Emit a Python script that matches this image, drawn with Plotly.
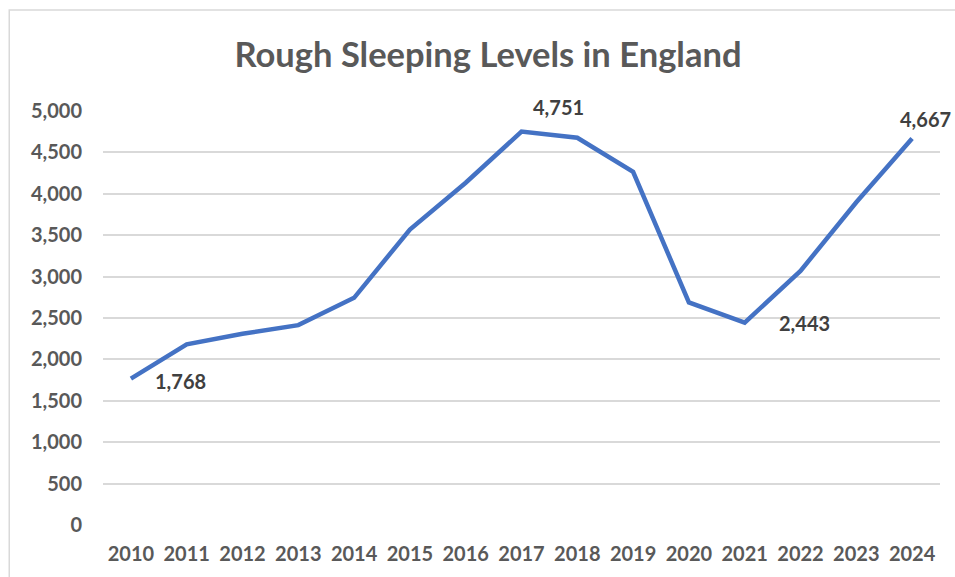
import plotly.graph_objects as go

years = [str(y) for y in range(2010, 2025)]
counts = [1768, 2181, 2309, 2414, 2744, 3569, 4134, 4751, 4677, 4266, 2688, 2443, 3069, 3898, 4667]
y_ticks = list(range(0, 5001, 500))

# labelled points: index, x/y pixel offset, anchor
labels = [(0, 50, -2, "center"), (7, 37, 25, "center"),
          (11, 60, 0, "center"), (14, 41, 20, "right")]

grey = "#595959"
font = "Lato"

fig = go.Figure()
fig.add_trace(go.Scatter(
    x=years, y=counts, mode="lines",
    line=dict(color="#4472C4", width=4.5),
    hoverinfo="x+y",
))

for i, dx, dy, anchor in labels:
    fig.add_annotation(
        x=i, y=counts[i], xref="x", yref="y", xanchor=anchor,
        text=f"<b>{counts[i]:,}</b>", showarrow=False,
        xshift=dx, yshift=dy,
        font=dict(family=font, size=20, color="#404040"),
    )

# outer chart frame
fig.add_shape(type="rect", xref="paper", yref="paper",
              x0=-0.112, y0=-0.3, x1=1.3, y1=1.244,
              line=dict(color="#d9d9d9", width=1.5), layer="below")

fig.update_layout(
    width=955, height=577,
    margin=dict(l=103, r=15, t=111, b=52),
    paper_bgcolor="white", plot_bgcolor="white",
    title=dict(text="<b>Rough Sleeping Levels in England</b>",
               x=0.511, xanchor="center", y=0.905, yanchor="middle",
               font=dict(family=font, size=34.5, color=grey)),
    showlegend=False,
    xaxis=dict(type="category", range=[-0.5, 14.5], showgrid=False,
               showline=False, ticks="", ticklabelstandoff=15, automargin=False,
               tickfont=dict(family=font, size=20, color=grey, weight="bold")),
    yaxis=dict(range=[0, 5000], tickvals=y_ticks, tickformat=",",
               gridcolor="#d9d9d9", gridwidth=1.5, zeroline=False,
               showline=False, ticks="", ticklabelstandoff=20, automargin=False,
               tickfont=dict(family=font, size=20, color=grey, weight="bold")),
)

# drop the default 8px page margin so the figure fills the window exactly
fig.write_html("out.html", config={"displayModeBar": False},
               post_script="document.body.style.margin='0';document.body.style.overflow='hidden';")
